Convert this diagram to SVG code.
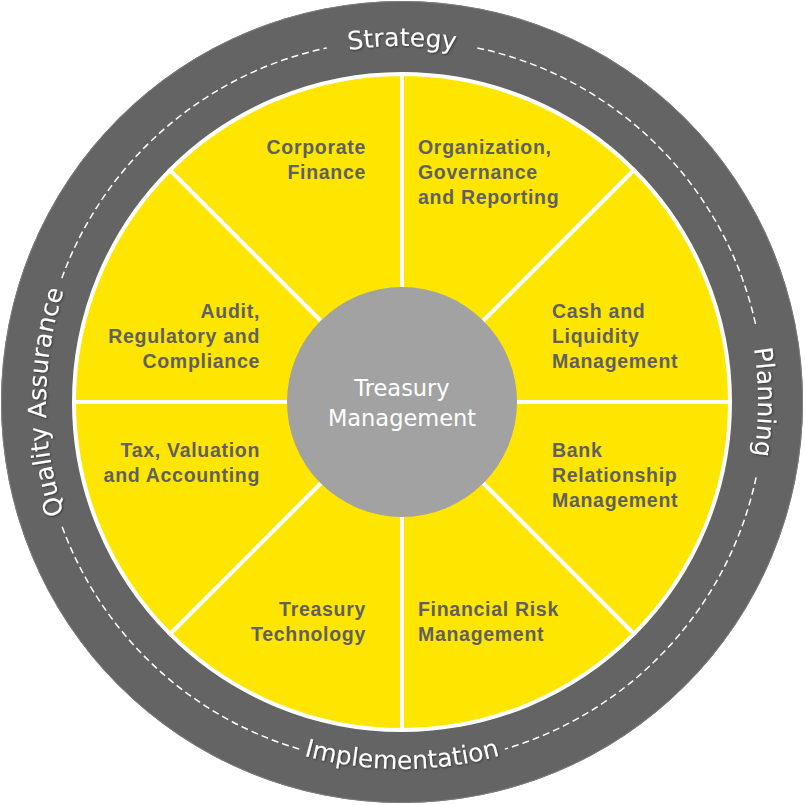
<svg xmlns="http://www.w3.org/2000/svg" width="805" height="805" viewBox="0 0 805 805">
  <defs>
    <style>
      .ring-text { font-family: "DejaVu Sans", "Liberation Sans", sans-serif; font-size: 25px; fill: #ffffff; }
      .lbl { font-family: "Liberation Sans", Arial, sans-serif; font-weight: bold; font-size: 19.5px; letter-spacing: 0.7px; fill: #606060; }
      .lbl-r { text-anchor: end; }
      .sector { fill: #ffe600; stroke: #ffffff; stroke-width: 4; stroke-linejoin: miter; }
      .dash { fill: none; stroke: #ffffff; stroke-width: 1.5; stroke-dasharray: 7 4; }
      .center-text { font-family: "DejaVu Sans", "Liberation Sans", sans-serif; font-size: 22.5px; fill: #ffffff; text-anchor: middle; }
    </style>
    <filter id="shadow" x="-10%" y="-10%" width="120%" height="120%">
      <feDropShadow dx="1" dy="1" stdDeviation="0.8" flood-color="#000000" flood-opacity="0.45"/>
    </filter>
    <path id="pTop" d="M 150.27 150.27 A 356 356 0 0 1 653.73 150.27"/>
    <path id="pRight" d="M 653.73 150.27 A 356 356 0 0 1 653.73 653.73"/>
    <path id="pLeft" d="M 150.27 653.73 A 356 356 0 0 1 150.27 150.27"/>
    <path id="pBottom" d="M 142.49 661.51 A 367 367 0 0 0 661.51 661.51"/>
  </defs>

  <g id="outer-ring">
    <circle cx="402" cy="402" r="401" fill="#646464"/>
    <circle cx="402" cy="402" r="400.5" fill="none" stroke="#7c7c7c" stroke-width="1"/>
    <g id="dashed-track">
      <path class="dash" d="M 756.1 477.3 A 362 362 0 0 1 504.8 749.1"/>
      <path class="dash" d="M 299.2 749.1 A 362 362 0 0 1 61.8 525.8"/>
      <path class="dash" d="M 61.8 278.2 A 362 362 0 0 1 326.7 47.9"/>
      <path class="dash" d="M 477.3 47.9 A 362 362 0 0 1 756.1 326.7"/>
    </g>
    <g id="ring-labels" filter="url(#shadow)">
      <text class="ring-text" text-anchor="middle"><textPath href="#pTop" startOffset="50%">Strategy</textPath></text>
      <text class="ring-text" text-anchor="middle"><textPath href="#pRight" startOffset="50%">Planning</textPath></text>
      <text class="ring-text" text-anchor="middle"><textPath href="#pLeft" startOffset="50%">Quality Assurance</textPath></text>
      <text class="ring-text" text-anchor="middle"><textPath href="#pBottom" startOffset="50%">Implementation</textPath></text>
    </g>
  </g>

  <g id="sectors">
    <g id="organization-governance-reporting">
      <path class="sector" d="M 402 402 L 402 74 A 328 328 0 0 1 633.93 170.07 Z"/>
      <text class="lbl" x="418" y="154">Organization,</text>
      <text class="lbl" x="418" y="179">Governance</text>
      <text class="lbl" x="418" y="204">and Reporting</text>
    </g>
    <g id="cash-liquidity">
      <path class="sector" d="M 402 402 L 633.93 170.07 A 328 328 0 0 1 730 402 Z"/>
      <text class="lbl" x="552" y="318">Cash and</text>
      <text class="lbl" x="552" y="343">Liquidity</text>
      <text class="lbl" x="552" y="368">Management</text>
    </g>
    <g id="bank-relationship">
      <path class="sector" d="M 402 402 L 730 402 A 328 328 0 0 1 633.93 633.93 Z"/>
      <text class="lbl" x="552" y="457">Bank</text>
      <text class="lbl" x="552" y="482">Relationship</text>
      <text class="lbl" x="552" y="507">Management</text>
    </g>
    <g id="financial-risk">
      <path class="sector" d="M 402 402 L 633.93 633.93 A 328 328 0 0 1 402 730 Z"/>
      <text class="lbl" x="418" y="616">Financial Risk</text>
      <text class="lbl" x="418" y="641">Management</text>
    </g>
    <g id="treasury-technology">
      <path class="sector" d="M 402 402 L 402 730 A 328 328 0 0 1 170.07 633.93 Z"/>
      <text class="lbl lbl-r" x="366" y="616">Treasury</text>
      <text class="lbl lbl-r" x="366" y="641">Technology</text>
    </g>
    <g id="tax-valuation-accounting">
      <path class="sector" d="M 402 402 L 170.07 633.93 A 328 328 0 0 1 74 402 Z"/>
      <text class="lbl lbl-r" x="260" y="457">Tax, Valuation</text>
      <text class="lbl lbl-r" x="260" y="482">and Accounting</text>
    </g>
    <g id="audit-regulatory-compliance">
      <path class="sector" d="M 402 402 L 74 402 A 328 328 0 0 1 170.07 170.07 Z"/>
      <text class="lbl lbl-r" x="260" y="318">Audit,</text>
      <text class="lbl lbl-r" x="260" y="343">Regulatory and</text>
      <text class="lbl lbl-r" x="260" y="368">Compliance</text>
    </g>
    <g id="corporate-finance">
      <path class="sector" d="M 402 402 L 170.07 170.07 A 328 328 0 0 1 402 74 Z"/>
      <text class="lbl lbl-r" x="366" y="154">Corporate</text>
      <text class="lbl lbl-r" x="366" y="179">Finance</text>
    </g>
  </g>

  <g id="treasury-management">
    <circle cx="402" cy="402" r="115" fill="#a2a2a2"/>
    <text class="center-text" x="402" y="396">Treasury</text>
    <text class="center-text" x="402" y="426">Management</text>
  </g>
</svg>
